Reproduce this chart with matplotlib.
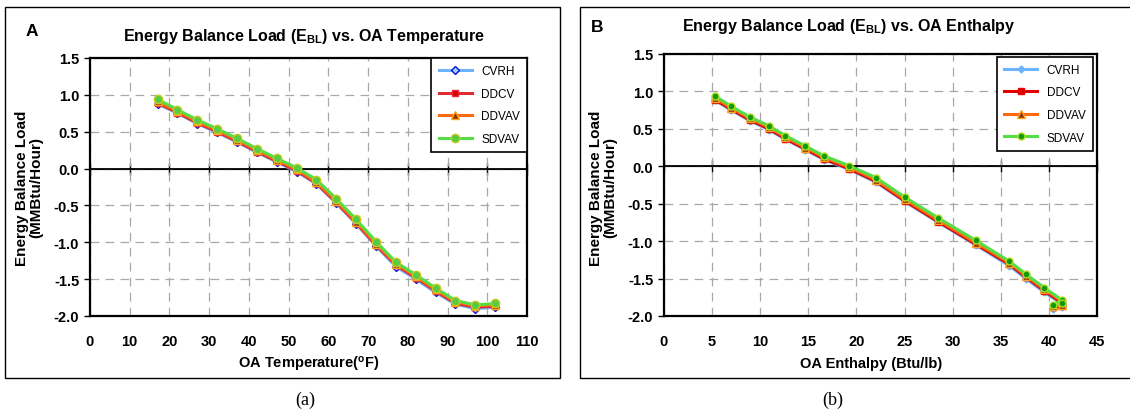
import matplotlib

matplotlib.use("Agg")
import matplotlib.pyplot as plt
from matplotlib.patches import Rectangle

plt.rcParams["font.family"] = ["Liberation Sans", "DejaVu Sans"]
plt.rcParams["mathtext.fontset"] = "custom"
plt.rcParams["mathtext.bf"] = "Liberation Sans:bold"
plt.rcParams["mathtext.rm"] = "Liberation Sans:bold"
plt.rcParams["mathtext.default"] = "bf"

# --- data ---
oa_temp = [17, 22, 27, 32, 37, 42, 47, 52, 57, 62, 67, 72, 77, 82, 87, 92, 97, 102]
oa_enthalpy = [5.3, 7.0, 8.9, 10.9, 12.6, 14.7, 16.6, 19.2, 22.0, 25.0,
               28.5, 32.4, 35.9, 37.6, 39.5, 41.4, 40.4, 41.4]

cvrh = [0.88, 0.75, 0.61, 0.49, 0.36, 0.22, 0.09, -0.04, -0.21, -0.47,
        -0.75, -1.05, -1.33, -1.50, -1.68, -1.84, -1.90, -1.88]
ddcv = [0.89, 0.76, 0.62, 0.50, 0.37, 0.23, 0.10, -0.03, -0.20, -0.46,
        -0.74, -1.04, -1.31, -1.48, -1.66, -1.83, -1.88, -1.87]
ddvav = [0.91, 0.78, 0.64, 0.52, 0.39, 0.25, 0.12, -0.01, -0.18, -0.44,
         -0.72, -1.02, -1.29, -1.46, -1.64, -1.81, -1.86, -1.85]
sdvav = [0.94, 0.80, 0.66, 0.54, 0.41, 0.27, 0.14, 0.01, -0.15, -0.41,
         -0.69, -0.99, -1.27, -1.44, -1.62, -1.79, -1.85, -1.83]

series_names = ["CVRH", "DDCV", "DDVAV", "SDVAV"]
series_vals = [cvrh, ddcv, ddvav, sdvav]

temp_ticks = list(range(0, 111, 10))
enth_ticks = list(range(0, 46, 5))
y_ticks = [1.5, 1.0, 0.5, 0.0, -0.5, -1.0, -1.5, -2.0]

# style per series: line colour, marker, face, edge, size
styles_a = [
    ("#6CB4FF", "D", "#9FD0FF", "#1010D0", 4.5),
    ("#E02B35", "s", "#E00000", "#E02B35", 5),
    ("#FF6A10", "^", "#8B3A00", "#FFA020", 6),
    ("#55DD44", "o", "#55CC44", "#C8C820", 6),
]
styles_b = [
    ("#6CB4FF", "D", "#6CB4FF", "#6CB4FF", 3.5),
    ("#E00000", "s", "#E00000", "#E00000", 5),
    ("#FF6A10", "^", "#8B3A00", "#FFA020", 6),
    ("#55DD44", "o", "#119911", "#B0DD20", 5),
]

W, H = 1130, 414
fig = plt.figure(figsize=(W / 100, H / 100), dpi=100)


def px(x0, y_top, x1, y_bot):
    return [x0 / W, 1 - y_bot / H, (x1 - x0) / W, (y_bot - y_top) / H]


def draw_panel(ax, xs, xticks, xmax, styles, leg_anchor):
    for vals, name, st in zip(series_vals, series_names, styles):
        ax.plot(xs, vals, color=st[0], lw=2.2, marker=st[1], ms=st[4],
                mfc=st[2], mec=st[3], mew=1, label=name, zorder=3)
    ax.set_xlim(0, xmax)
    ax.set_ylim(-2.0, 1.5)
    ax.set_xticks(xticks)
    ax.set_yticks(y_ticks)
    ax.set_yticklabels([f"{v:.1f}" for v in y_ticks])
    for lab in ax.get_xticklabels() + ax.get_yticklabels():
        lab.set_fontweight("bold")
    ax.tick_params(axis="x", length=0, pad=13, labelsize=10.5)
    ax.tick_params(axis="y", length=4.3, width=1, direction="out", pad=3.5, labelsize=10.5)
    ax.grid(True, color="#A8A8A8", ls=(0, (7, 5)), lw=0.9)
    ax.set_axisbelow(True)
    for s in ax.spines.values():
        s.set_linewidth(1.6)
    # zero line with tick marks (x axis crosses at y = 0)
    ax.axhline(0, color="black", lw=1.3, zorder=2)
    sec = ax.secondary_xaxis(2.0 / 3.5)
    sec.set_xticks(xticks)
    sec.tick_params(axis="x", direction="inout", length=8, width=1, labelbottom=False,
                    labeltop=False)
    sec.spines["bottom"].set_linewidth(1.3)
    leg = ax.legend(loc="upper right", bbox_to_anchor=leg_anchor, fontsize=8.5,
                    handlelength=2.8, labelspacing=0.9, borderpad=0.6, borderaxespad=0,
                    fancybox=False, framealpha=1, edgecolor="black")
    leg.get_frame().set_linewidth(1.2)
    leg.set_zorder(5)


# panel frames
fig.patches.append(Rectangle((5 / W, 1 - 379 / H), 555 / W, 371 / H, transform=fig.transFigure,
                             fill=False, ec="black", lw=1))
fig.patches.append(Rectangle((580 / W, 1 - 379 / H), 560 / W, 371 / H, transform=fig.transFigure,
                             fill=False, ec="black", lw=1))

# --- Panel A ---
ax_a = fig.add_axes(px(90, 59, 527, 317))
draw_panel(ax_a, oa_temp, temp_ticks, 110, styles_a, (1.0, 1.0))
fig.text(304 / W, 1 - 37 / H, "Energy Balance Load (E$_{BL}$) vs. OA Temperature",
         ha="center", va="center", fontsize=11.5, fontweight="bold")
fig.text(32 / W, 1 - 31 / H, "A", ha="center", va="center", fontsize=12.5, fontweight="bold")
fig.text(309 / W, 1 - 365 / H, "OA Temperature($^{o}$F)", ha="center", va="center",
         fontsize=10.5, fontweight="bold")
fig.text(29 / W, 1 - 188 / H, "Energy Balance Load\n(MMBtu/Hour)", ha="center", va="center",
         rotation=90, fontsize=11, fontweight="bold", linespacing=1.0)
fig.text(305 / W, 1 - 400 / H, "(a)", ha="center", va="center", fontsize=13,
         family="Liberation Serif")

# --- Panel B ---
ax_b = fig.add_axes(px(664, 55, 1097, 317))
draw_panel(ax_b, oa_enthalpy, enth_ticks, 45, styles_b, (0.99, 0.99))
fig.text(849 / W, 1 - 27 / H, "Energy Balance Load (E$_{BL}$) vs. OA Enthalpy",
         ha="center", va="center", fontsize=11.5, fontweight="bold")
fig.text(597 / W, 1 - 28 / H, "B", ha="center", va="center", fontsize=12.5, fontweight="bold")
fig.text(871 / W, 1 - 364 / H, "OA Enthalpy (Btu/lb)", ha="center", va="center",
         fontsize=10.5, fontweight="bold")
fig.text(603 / W, 1 - 188 / H, "Energy Balance Load\n(MMBtu/Hour)", ha="center", va="center",
         rotation=90, fontsize=11, fontweight="bold", linespacing=1.0)
fig.text(833 / W, 1 - 400 / H, "(b)", ha="center", va="center", fontsize=13,
         family="Liberation Serif")

fig.savefig("out.png", dpi=100)
plt.close()
